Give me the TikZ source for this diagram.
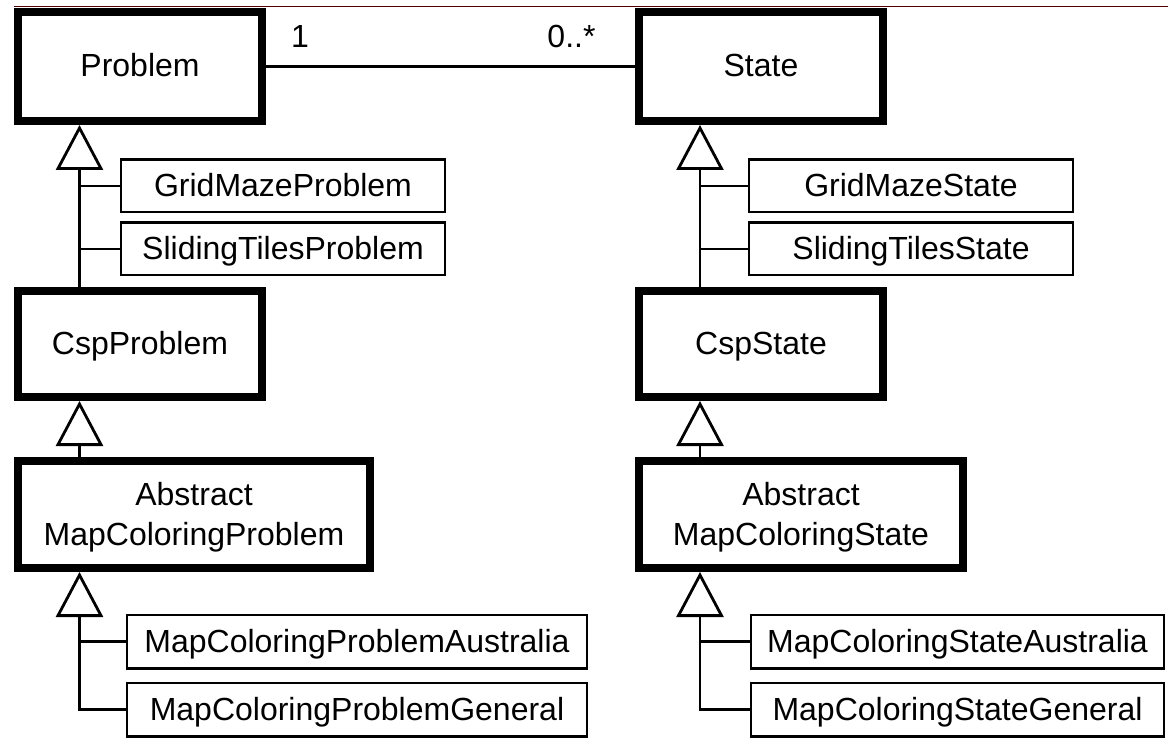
\documentclass[tikz,border=0pt]{standalone}
\usepackage{fontspec}
\setmainfont{Liberation Sans}
\usetikzlibrary{arrows.meta}

\definecolor{edgered}{RGB}{80,0,0}

\begin{document}
\begin{tikzpicture}[x=0.5pt,y=-0.5pt,
		font=\fontsize{16}{20}\selectfont,
		classbox/.style={draw, inner sep=0pt},
		boxtext/.style={text height=11.5pt, text depth=1pt},
		mainclass/.style={classbox, line width=3.8pt},
		subclass/.style={classbox, boxtext, line width=1.2pt},
		link/.style={line width=1.4pt},
		gen/.style={link, -{Triangle[open, length=22.5pt, width=23.5pt]}}]
		\useasboundingbox (0,0) rectangle (1168,743);
		\draw[edgered, line width=0.5pt] (14,7) -- (1168,7);
		
		% base classes
		\node[mainclass, boxtext, minimum width=122.2pt, minimum height=54.7pt]
			(prob) at (140,66.5) {Problem};
		\node[mainclass, boxtext, minimum width=122.2pt, minimum height=54.7pt]
			(state) at (761,66.5) {State};
		
		\node[subclass, minimum width=161.8pt, minimum height=26.3pt]
			(gridprob) at (283,186) {GridMazeProblem};
		\node[subclass, minimum width=161.8pt, minimum height=26.3pt]
			(slideprob) at (283,249) {SlidingTilesProblem};
		\node[subclass, minimum width=161.8pt, minimum height=26.3pt]
			(gridstate) at (911,186) {GridMazeState};
		\node[subclass, minimum width=161.8pt, minimum height=26.3pt]
			(slidestate) at (911,249) {SlidingTilesState};
		
		% csp classes
		\node[mainclass, boxtext, minimum width=122.2pt, minimum height=53.2pt]
			(cspprob) at (140,344) {CspProblem};
		\node[mainclass, boxtext, minimum width=122.2pt, minimum height=53.2pt]
			(cspstate) at (761,344) {CspState};
		
		% map coloring classes
		\node[mainclass, align=center, minimum width=176.2pt, minimum height=53.7pt]
			(mapprob) at (194,514.5) {\rule{0pt}{14.8pt}Abstract\\MapColoringProblem};
		\node[mainclass, align=center, minimum width=162.2pt, minimum height=53.7pt]
			(mapstate) at (801,514.5) {\rule{0pt}{14.8pt}Abstract\\MapColoringState};
		
		\node[subclass, minimum width=229.8pt, minimum height=26.8pt]
			(ausprob) at (357,641.5) {MapColoringProblemAustralia};
		\node[subclass, minimum width=229.8pt, minimum height=26.8pt]
			(genprob) at (357,709.5) {MapColoringProblemGeneral};
		\node[subclass, minimum width=206.3pt, minimum height=26.8pt]
			(ausstate) at (957.5,641.5) {MapColoringStateAustralia};
		\node[subclass, minimum width=206.3pt, minimum height=26.8pt]
			(genstate) at (957.5,709.5) {MapColoringStateGeneral};
		
		% association
		\draw[link] (prob.east) -- (state.west);
		\node (multone) at (300,36) {1};
		\node (multmany) at (571.5,36) {0..*};
		
		% generalizations
		\coordinate (lstem) at (79.5,0);
		\coordinate (rstem) at (700,0);
		
		\draw[gen] (cspprob.north -| lstem) -- (prob.south -| lstem);
		\draw[link] (gridprob.west) -- (gridprob.west -| lstem);
		\draw[link] (slideprob.west) -- (slideprob.west -| lstem);
		\draw[gen] (cspstate.north -| rstem) -- (state.south -| rstem);
		\draw[link] (gridstate.west) -- (gridstate.west -| rstem);
		\draw[link] (slidestate.west) -- (slidestate.west -| rstem);
		
		\draw[gen] (mapprob.north -| lstem) -- (cspprob.south -| lstem);
		\draw[gen] (mapstate.north -| rstem) -- (cspstate.south -| rstem);
		
		\draw[gen] (genprob.west) -| (mapprob.south -| lstem);
		\draw[link] (ausprob.west) -- (ausprob.west -| lstem);
		\draw[gen] (genstate.west) -| (mapstate.south -| rstem);
		\draw[link] (ausstate.west) -- (ausstate.west -| rstem);
	\end{tikzpicture}
\end{document}
